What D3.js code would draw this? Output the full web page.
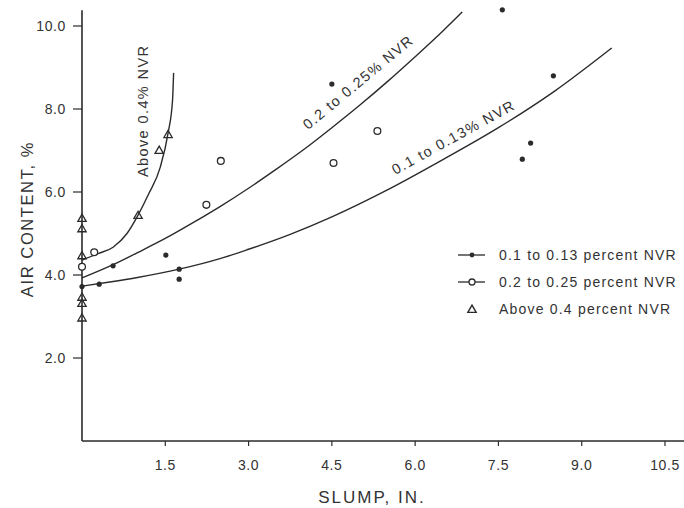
<!DOCTYPE html>
<html>
<head>
<meta charset="utf-8">
<script src="https://cdn.jsdelivr.net/npm/d3@7"></script>
<style>
  body { margin: 0; background: #fff; }
  svg { display: block; font-family: "Liberation Sans", Arial, Helvetica, sans-serif; }
</style>
</head>
<body>
<svg id="chart" width="684" height="508"></svg>
<script>
// tick labels
var xTicks = [1.5, 3.0, 4.5, 6.0, 7.5, 9.0, 10.5];
var yTicks = [2.0, 4.0, 6.0, 8.0, 10.0];

// measured points  [slump, air content]
var lowNvrPts = [[0, 3.72], [0.31, 3.78], [0.56, 4.22], [1.51, 4.48], [1.75, 4.14], [1.75, 3.90],
                 [4.5, 8.6], [7.57, 10.39], [8.49, 8.8], [8.08, 7.18], [7.93, 6.79]];
var midNvrPts = [[0, 4.2], [0.22, 4.55], [2.24, 5.69], [2.5, 6.75], [4.53, 6.70], [5.32, 7.47]];
var highNvrPts = [[0, 5.35], [0, 5.1], [0, 4.45], [0, 3.45], [0, 3.3], [0, 2.95],
                  [1.01, 5.42], [1.39, 6.99], [1.55, 7.37]];

// fitted curves
var lowCurve = [[0, 3.73], [0.5, 3.83], [1.0, 3.94], [1.75, 4.14], [2.5, 4.4], [3.0, 4.62], [3.75, 4.98],
                [4.5, 5.4], [5.5, 6.05], [6.5, 6.78], [7.5, 7.55], [8.5, 8.42], [9.54, 9.47]];
var midCurve = [[0, 3.93], [0.56, 4.25], [1.0, 4.54], [1.5, 4.88], [2.0, 5.26], [2.5, 5.66], [3.0, 6.09],
                [3.5, 6.55], [4.0, 7.03], [4.5, 7.55], [5.0, 8.09], [5.5, 8.66], [6.0, 9.26], [6.5, 9.88], [6.85, 10.34]];
var highCurve = [[0, 4.36], [0.3, 4.52], [0.56, 4.67], [0.81, 5.0], [1.0, 5.42], [1.2, 5.95],
                 [1.41, 6.6], [1.55, 7.42], [1.63, 8.2], [1.65, 8.87]];

// curve labels: text, anchor [slump, air], angle
var curveLabels = [
  { text: "Above 0.4% NVR", at: [1.19, 6.36], angle: -90 },
  { text: "0.2 to 0.25% NVR", at: [4.07, 7.49], angle: -39.6 },
  { text: "0.1 to 0.13% NVR", at: [5.64, 6.41], angle: -28.8 }
];

var legendItems = [
  { text: "0.1 to 0.13 percent NVR", mark: "dot", line: true },
  { text: "0.2 to 0.25 percent NVR", mark: "circle", line: true },
  { text: "Above 0.4 percent NVR", mark: "tri", line: false }
];

var ink = "#2b2b2b";
var svg = d3.select("#chart");

var x = d3.scaleLinear().domain([0, 10.5]).range([82, 665]);
var y = d3.scaleLinear().domain([0, 10]).range([441, 26]);

// axes
svg.append("line").attr("x1", x(0)).attr("x2", 684).attr("y1", y(0)).attr("y2", y(0))
  .attr("stroke", ink).attr("stroke-width", 1.6);
svg.append("line").attr("x1", x(0)).attr("x2", x(0)).attr("y1", y(0)).attr("y2", y(10.38))
  .attr("stroke", ink).attr("stroke-width", 1.6);

var xt = svg.append("g").selectAll("g").data(xTicks).enter().append("g")
  .attr("transform", function(d){ return "translate(" + x(d) + "," + y(0) + ")"; });
xt.append("line").attr("y1", 0).attr("y2", 5).attr("stroke", ink).attr("stroke-width", 1.2);
xt.append("text").attr("y", 29).attr("text-anchor", "middle")
  .attr("font-size", 14).attr("fill", "#333").attr("letter-spacing", 0.6)
  .text(function(d){ return d.toFixed(1); });

var yt = svg.append("g").selectAll("g").data(yTicks).enter().append("g")
  .attr("transform", function(d){ return "translate(" + x(0) + "," + y(d) + ")"; });
yt.append("line").attr("x1", -9).attr("x2", 0).attr("stroke", ink).attr("stroke-width", 1.2);
yt.append("text").attr("x", -16).attr("dy", "0.35em").attr("text-anchor", "end")
  .attr("font-size", 14).attr("fill", "#333").attr("letter-spacing", 0.6)
  .text(function(d){ return d.toFixed(1); });

// axis titles
svg.append("text").attr("x", 372).attr("y", 503).attr("text-anchor", "middle")
  .attr("font-size", 17).attr("fill", "#333").attr("letter-spacing", 2).text("SLUMP, IN.");
svg.append("text").attr("transform", "translate(33,219) rotate(-90)").attr("text-anchor", "middle")
  .attr("font-size", 16.5).attr("fill", "#333").attr("letter-spacing", 1.6).text("AIR CONTENT, %");

// curves
var line = d3.line().x(function(d){ return x(d[0]); }).y(function(d){ return y(d[1]); })
  .curve(d3.curveMonotoneX);
[lowCurve, midCurve, highCurve].forEach(function(c){
  svg.append("path").attr("d", line(c)).attr("fill", "none")
    .attr("stroke", ink).attr("stroke-width", 1.4);
});

// points
svg.append("g").selectAll("circle").data(lowNvrPts).enter().append("circle")
  .attr("cx", function(d){ return x(d[0]); }).attr("cy", function(d){ return y(d[1]); })
  .attr("r", 2.6).attr("fill", ink);
svg.append("g").selectAll("circle").data(midNvrPts).enter().append("circle")
  .attr("cx", function(d){ return x(d[0]); }).attr("cy", function(d){ return y(d[1]); })
  .attr("r", 3.4).attr("fill", "#fff").attr("stroke", ink).attr("stroke-width", 1.3);
var tri = d3.symbol().type(d3.symbolTriangle).size(30);
svg.append("g").selectAll("path").data(highNvrPts).enter().append("path")
  .attr("d", tri)
  .attr("transform", function(d){ return "translate(" + x(d[0]) + "," + y(d[1]) + ")"; })
  .attr("fill", "none").attr("stroke", ink).attr("stroke-width", 1.3);

// labels on curves
svg.append("g").selectAll("text").data(curveLabels).enter().append("text")
  .attr("transform", function(d){
    return "translate(" + x(d.at[0]) + "," + y(d.at[1]) + ") rotate(" + d.angle + ")";
  })
  .attr("font-size", 14.5).attr("fill", "#333").attr("letter-spacing", 1.4)
  .text(function(d){ return d.text; });

// legend
var lg = svg.append("g").selectAll("g").data(legendItems).enter().append("g")
  .attr("transform", function(d, i){ return "translate(472," + (255 + i * 27) + ")"; });
lg.filter(function(d){ return d.line; }).append("line")
  .attr("x1", -14).attr("x2", 13).attr("stroke", ink).attr("stroke-width", 1.3);
lg.each(function(d){
  var g = d3.select(this);
  if (d.mark === "dot") g.append("circle").attr("r", 2.4).attr("fill", ink);
  if (d.mark === "circle") g.append("circle").attr("r", 3).attr("fill", "#fff").attr("stroke", ink).attr("stroke-width", 1.3);
  if (d.mark === "tri") g.append("path").attr("d", tri).attr("transform", "translate(0,1)")
    .attr("fill", "none").attr("stroke", ink).attr("stroke-width", 1.4);
});
lg.append("text").attr("x", 27).attr("dy", "0.35em")
  .attr("font-size", 14).attr("fill", "#333").attr("letter-spacing", 1.2)
  .text(function(d){ return d.text; });
</script>
</body>
</html>
